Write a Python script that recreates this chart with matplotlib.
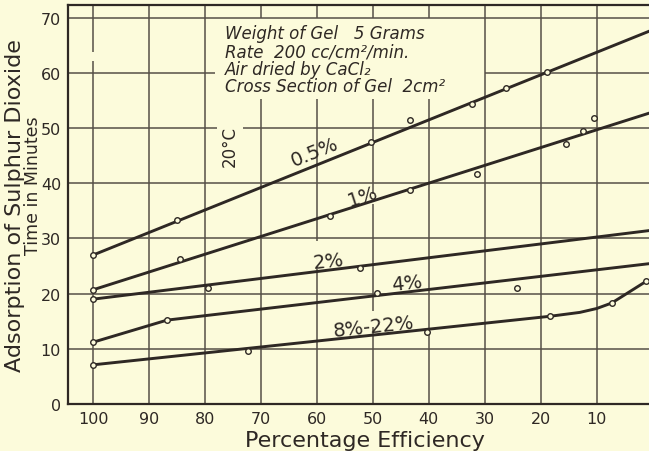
import matplotlib
matplotlib.use("Agg")
import matplotlib.pyplot as plt

# ---------------- data ----------------
x_ticks = [100, 90, 80, 70, 60, 50, 40, 30, 20, 10]
y_ticks = [0, 10, 20, 30, 40, 50, 60, 70]

series_names = ["0.5%", "1%", "2%", "4%", "8%-22%"]

pts_05_x = [100, 85, 50.4, 43.3, 32.3, 26.2, 18.8]
pts_05_y = [27.0, 33.4, 47.4, 51.5, 54.3, 57.2, 60.2]
line_05_x = [100, 0]
line_05_y = [27.0, 67.8]

pts_1_x = [100, 84.5, 57.7, 43.3, 31.3, 15.5, 12.5, 10.5]
pts_1_y = [20.7, 26.3, 34.0, 38.8, 41.7, 47.2, 49.4, 51.9]
line_1_x = [100, 0]
line_1_y = [20.7, 52.9]

pts_2_x = [100, 79.4, 52.3]
pts_2_y = [19.0, 21.1, 24.7]
line_2_x = [100, 0]
line_2_y = [19.0, 31.5]

pts_4_x = [100, 86.8, 49.3, 24.2]
pts_4_y = [11.2, 15.2, 20.2, 21.1]
line_4_x = [100, 86.8, 0]
line_4_y = [11.2, 15.2, 25.5]

pts_8_x = [100, 72.4, 40.4, 18.3, 7.3, 1.2]
pts_8_y = [7.1, 9.6, 13.0, 16.0, 18.3, 22.2]
line_8_x = [100, 18.3, 13, 10, 7.3, 1.2]
line_8_y = [7.1, 15.9, 16.6, 17.3, 18.3, 22.2]

info_lines = ["Weight of Gel   5 Grams",
              "Rate  200 cc/cm\u00b2/min.",
              "Air dried by CaCl\u2082",
              "Cross Section of Gel  2cm\u00b2"]

# ---------------- style ----------------
BG = "#fcfbdb"
INK = "#2e2824"
GRID = "#554f47"

W, H = 649, 452
fig = plt.figure(figsize=(W / 100, H / 100), dpi=100, facecolor=BG)
ax_left, ax_bottom, ax_top = 68, 405, 6
ax = fig.add_axes([ax_left / W, (H - ax_bottom) / H, 1 - ax_left / W,
                   (ax_bottom - ax_top) / H])
ax.set_facecolor(BG)
ax.set_xlim(104.5, 0.64)
ax.set_ylim(0, 72.3)

for s in ["left", "bottom", "top"]:
    ax.spines[s].set_color(INK)
    ax.spines[s].set_linewidth(1.6)
ax.spines["right"].set_visible(False)

ax.set_xticks(x_ticks)
ax.set_xticklabels([str(v) for v in x_ticks])
ax.set_yticks(y_ticks)
ax.set_yticklabels([str(v) for v in y_ticks])
ax.tick_params(axis="both", length=0, labelsize=11.5, colors=INK)
ax.tick_params(axis="x", pad=5)
ax.tick_params(axis="y", pad=5)


# gridlines with gaps where the lettering sits
def segments(lo, hi, gaps):
    segs = []
    start = lo
    for g0, g1 in sorted(gaps):
        if g0 > start:
            segs.append((start, g0))
        start = max(start, g1)
    if start < hi:
        segs.append((start, hi))
    return segs


ymax = ax.get_ylim()[1]
v_gaps = {70: [(55.3, 70)], 60: [(55.3, 70), (24.5, 29.6)],
          50: [(55.3, 70), (36.2, 38.0), (14.0, 16.8)], 40: [(55.3, 70)],
          100: [(62.1, 63.8)]}
for xv in x_ticks:
    for a, b in segments(0, ymax, v_gaps.get(xv, [])):
        ax.plot([xv, xv], [a, b], color=GRID, lw=1.1, zorder=1,
                solid_capstyle="butt")

h_gaps = {60: [(30, 78.2)], 50: [(73.2, 77.9)]}
for yv in y_ticks[1:]:
    for a, b in segments(0, 104.5, h_gaps.get(yv, [])):
        ax.plot([a, b], [yv, yv], color=GRID, lw=1.1, zorder=1,
                solid_capstyle="butt")

# curves and observed points
lines = [(line_05_x, line_05_y, pts_05_x, pts_05_y),
         (line_1_x, line_1_y, pts_1_x, pts_1_y),
         (line_2_x, line_2_y, pts_2_x, pts_2_y),
         (line_4_x, line_4_y, pts_4_x, pts_4_y),
         (line_8_x, line_8_y, pts_8_x, pts_8_y)]
for lx, ly, px, py in lines:
    ax.plot(lx, ly, color=INK, lw=2.1, zorder=3, solid_capstyle="round")
    ax.plot(px, py, linestyle="none", marker="o", markersize=4.0,
            markerfacecolor=BG, markeredgecolor=INK, markeredgewidth=1.0,
            zorder=4)

# series labels
label_pos = [(60.4, 45.8, 22), (51.8, 37.7, 18), (57.9, 26.0, 6),
             (43.9, 21.9, 6), (49.9, 14.1, 6)]
for name, (lx, ly, rot) in zip(series_names, label_pos):
    ax.text(lx, ly, name, fontsize=14, color=INK, rotation=rot,
            ha="center", va="center", zorder=5,
            rotation_mode="anchor")

ax.text(75.5, 46.9, "20\u00b0C", fontsize=12, color=INK, rotation=90,
        ha="center", va="center", zorder=5)

ax.text(76.4, 68.8, "\n".join(info_lines), fontsize=12, style="italic",
        color=INK, ha="left", va="top", linespacing=0.98, zorder=5)

# axis titles
fig.text(15 / W, 1 - 206 / H, "Adsorption of Sulphur Dioxide", rotation=90,
         fontsize=16, color=INK, ha="center", va="center")
fig.text(32.5 / W, 1 - 186 / H, "Time in Minutes", rotation=90,
         fontsize=12.5, color=INK, ha="center", va="center")
fig.text(365 / W, 1 - 441 / H, "Percentage Efficiency", fontsize=16,
         color=INK, ha="center", va="center")

fig.savefig("out.png", dpi=100, facecolor=BG)
